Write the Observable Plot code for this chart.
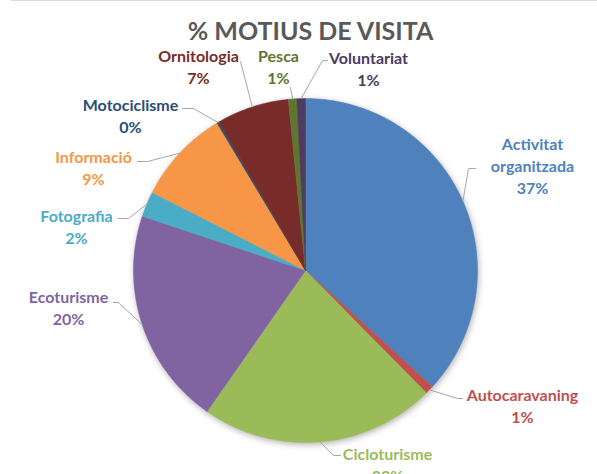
<!DOCTYPE html>
<html><head><meta charset="utf-8">
<script src="https://cdn.jsdelivr.net/npm/d3@7"></script>
<script src="https://cdn.jsdelivr.net/npm/@observablehq/plot@0.6"></script>
<style>
body{margin:0;background:#fff;}
#wrap{position:relative;width:597px;height:474px;overflow:hidden;font-family:Lato,sans-serif;background:#fff;}
#topline{position:absolute;left:11px;top:0;width:586px;height:1px;background:#DCDCDC;}
#title{position:absolute;left:12px;top:18px;width:597px;text-align:center;font:bold 25px/25px Lato,sans-serif;color:#595959;z-index:2;}
</style></head><body>
<div id="wrap"><div id="topline"></div><div id="title">% MOTIUS DE VISITA</div></div>
<script>
// ---- data ----
const categories = ["Activitat organitzada","Autocaravaning","Cicloturisme","Ecoturisme","Fotografia","Informació","Motociclisme","Ornitologia","Pesca","Voluntariat"];
const values = [36.8, 0.8, 22.1, 20.4, 2.4, 8.9, 0.2, 6.8, 0.8, 0.8];
const colors = ["#4F81BD","#C0504D","#9BBB59","#8064A2","#4BACC6","#F79646","#2C4D75","#772C2A","#5F7530","#4D3B62"];

// ---- layout ----
const W = 597, H = 474, cx = 305, cy = 270, R = 172;
const labelX = [532, 522, 387, 68, 76, 93, 130, 198, 278, 368];
const labelY1 = [143, 394, 453, 296, 215, 156, 104, 55, 55, 57]; // first line centre
const elbowX = [468, 457, 333, 118, 128, 147, 193, 240, 290, 322];
const elbowY = [168, 398, 455, 302, 218, 161, 108, 61, 87, 60];
const tailX  = [475, 462, 340, 113, 118, 137, 182, 240, 290, 327];
const fontSize = 16, lineH = 1.36;

const arcs = d3.pie().sort(null).value(d => d)(values);
const slicePts = [];
arcs.forEach((a, i) => {
  const n = Math.max(2, Math.ceil((a.endAngle - a.startAngle) / (Math.PI / 360)));
  slicePts.push({k: i, x: cx, y: cy});
  for (let j = 0; j <= n; j++) {
    const t = a.startAngle + (a.endAngle - a.startAngle) * j / n;
    slicePts.push({k: i, x: cx + R * Math.sin(t), y: cy - R * Math.cos(t)});
  }
  slicePts.push({k: i, x: cx, y: cy});
});
const leaderPts = [];
arcs.forEach((a, i) => {
  const m = (a.startAngle + a.endAngle) / 2;
  leaderPts.push({k: i, x: cx + R * Math.sin(m), y: cy - R * Math.cos(m)});
  leaderPts.push({k: i, x: elbowX[i], y: elbowY[i]});
  leaderPts.push({k: i, x: tailX[i], y: elbowY[i]});
});
const labels = categories.map((c, i) => {
  const lines = c.split(" ").concat([Math.round(values[i]) + "%"]);
  return {
    k: i,
    text: lines.join("\n"),
    x: labelX[i],
    y: labelY1[i] + (lines.length - 1) * fontSize * lineH / 2
  };
});

const chart = Plot.plot({
  width: W, height: H, margin: 0,
  x: {domain: [0, W], range: [0, W], axis: null},
  y: {domain: [0, H], range: [0, H], axis: null},
  color: {type: "identity"},
  style: {background: "transparent"},
  marks: [
    Plot.line(slicePts, {x: "x", y: "y", z: "k", fill: d => colors[d.k], stroke: d => colors[d.k], strokeWidth: 0.5, curve: "linear"}),
    Plot.line(leaderPts, {x: "x", y: "y", z: "k", stroke: "#A6A6A6", strokeWidth: 1}),
    Plot.text(labels, {x: "x", y: "y", text: "text", fill: d => colors[d.k], fontSize: fontSize, fontWeight: "bold", fontFamily: "Lato", lineHeight: lineH, textAnchor: "middle"})
  ]
});
document.getElementById("wrap").appendChild(chart);
const pie = chart.querySelector("g[aria-label='line']");
if (pie) pie.style.filter = "drop-shadow(1px 2px 3px rgba(0,0,0,0.3))";
</script>
</body></html>
